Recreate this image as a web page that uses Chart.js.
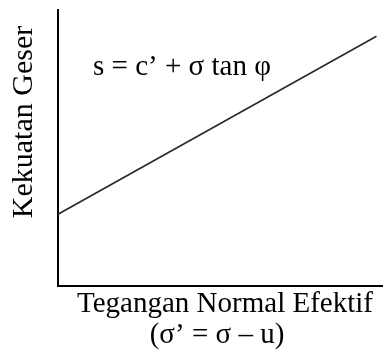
<!DOCTYPE html>
<html>
<head>
<meta charset="utf-8">
<script src="https://cdn.jsdelivr.net/npm/chart.js@4"></script>
<style>
  html, body { margin: 0; padding: 0; background: #fff; }
  #wrap { width: 383px; height: 351px; }
</style>
</head>
<body>
<div id="wrap"><canvas id="chart" width="383" height="351"></canvas></div>
<script>
// Shear strength envelope (schematic, no units)
const sigmaValues = [0, 9.8];
const strengthValues = [2.6, 9.05];
const equationText = 's = c\u2019 + \u03c3 tan \u03c6';
const yTitle = 'Kekuatan Geser';
const xTitleLines = ['Tegangan Normal Efektif', '(\u03c3\u2019 = \u03c3 \u2013 u)'];

const serif = '"Liberation Serif", "DejaVu Serif", serif';

// draws the equation and axis titles around the plot area
const labelsPlugin = {
    id: 'labels',
    afterDraw(chart) {
        const ctx = chart.ctx;
        const area = chart.chartArea;
        ctx.save();
        ctx.fillStyle = '#000';
        ctx.textBaseline = 'middle';

        ctx.font = '29px ' + serif;
        ctx.textAlign = 'center';
        ctx.fillText(equationText, area.left + 124, 67);

        ctx.font = '30px ' + serif;
        ctx.save();
        ctx.translate(24, 122);
        ctx.rotate(-Math.PI / 2);
        ctx.fillText(yTitle, 0, 0);
        ctx.restore();

        ctx.font = '29px ' + serif;
        ctx.fillText(xTitleLines[0], 225, 304);
        ctx.fillText(xTitleLines[1], 217, 335);
        ctx.restore();
    }
};

new Chart(document.getElementById('chart'), {
    type: 'line',
    data: {
        datasets: [{
            data: sigmaValues.map((x, i) => ({ x: x, y: strengthValues[i] })),
            borderColor: '#2a2a2a',
            borderWidth: 1.6,
            pointRadius: 0,
            fill: false,
            tension: 0
        }]
    },
    options: {
        responsive: false,
        animation: false,
        layout: { padding: { top: 10, right: 0, bottom: 0, left: 0 } },
        plugins: {
            legend: { display: false },
            tooltip: { enabled: false }
        },
        scales: {
            x: {
                type: 'linear',
                min: 0,
                max: 10,
                grid: { display: false },
                ticks: { display: false },
                border: { display: true, color: '#000', width: 2 },
                afterFit(scale) { scale.height = 65; }
            },
            y: {
                min: 0,
                max: 10,
                grid: { display: false },
                ticks: { display: false },
                border: { display: true, color: '#000', width: 2 },
                afterFit(scale) { scale.width = 58; }
            }
        }
    },
    plugins: [labelsPlugin]
});
</script>
</body>
</html>
